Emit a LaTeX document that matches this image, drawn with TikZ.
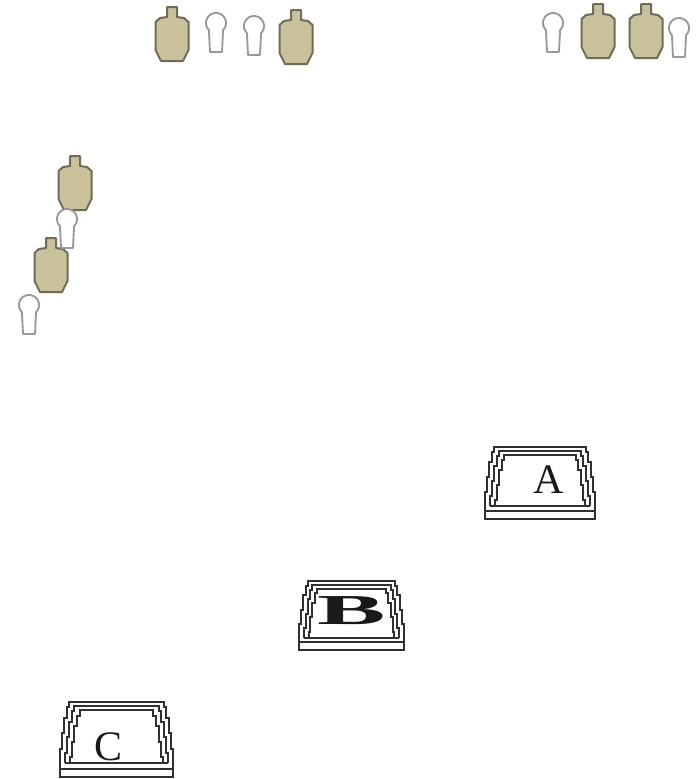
\documentclass[tikz,border=0pt]{standalone}
\usepackage{fontspec}
\setmainfont{Liberation Serif}
\definecolor{targetfill}{HTML}{C9C19A}
\definecolor{targetline}{HTML}{6E6B58}
\definecolor{holeline}{HTML}{999999}
\definecolor{trayline}{HTML}{303030}
\tikzset{
  trayletter/.style={inner sep=0pt,font=\fontsize{31.5}{36}\selectfont,text=black!90},
  bigtarget/.pic={
    \draw[line width=1.5pt,draw=targetline,fill=targetfill,line join=round]
      (-5,0)--(5,0)--(5,10)--(12,11)--(16.5,15)--(16.5,43)--(11,54)--(-11,54)--(-16.5,43)--(-16.5,15)--(-12,11)--(-5,10)--cycle;
  },
  keyhole/.pic={
    \draw[line width=1.4pt,draw=holeline,fill=white,line join=round]
      plot[domain=135:405,samples=40] ({10*cos(\x)},{10*sin(\x)})
      --(6,29)--(-6,29)--cycle;
  },
  stackline/.style={line width=1.5pt,draw=trayline,line join=miter}
}
\newcommand{\StackTray}[4]{%
  \begin{scope}[shift={(#1,#2)},xscale=#3/110,yscale=#4/72]
    \draw[stackline] (0,64) rectangle (110,72);
    \foreach \d/\e in {0/64,1/59,2/59}{
      \pgfmathsetmacro{\a}{\d*5}
      \pgfmathsetmacro{\b}{\d*4}
      \pgfmathsetmacro{\r}{110-\a}
      \draw[stackline]
        (\a,\e)--(\a,\b+45)--(\a+2,\b+45)--(\a+2,\b+30)--(\a+4,\b+30)--(\a+4,\b+15)
        --(\a+7,\b+15)--(\a+7,\b+5)--(\a+9,\b+5)--(\a+9,\b)
        --(\r-9,\b)--(\r-9,\b+5)--(\r-7,\b+5)--(\r-7,\b+15)--(\r-4,\b+15)--(\r-4,\b+30)
        --(\r-2,\b+30)--(\r-2,\b+45)--(\r,\b+45)--(\r,\e);
    }
    \draw[stackline] (5,59)--(105,59);
  \end{scope}%
}
\begin{document}
\begin{tikzpicture}[x=0.75pt,y=-0.75pt]
\useasboundingbox (0,0) rectangle (697,779);
\fill[white] (0,0) rectangle (697,779);
% top row
\pic at (172,7) {bigtarget};
\pic at (216,23) {keyhole};
\pic at (254,26) {keyhole};
\pic at (296,10) {bigtarget};
\pic at (553,23) {keyhole};
\pic at (598,4) {bigtarget};
\pic at (646,4) {bigtarget};
\pic at (679,28) {keyhole};
% left column
\pic at (75,156) {bigtarget};
\pic at (51,238) {bigtarget};
\pic at (67,219) {keyhole};
\pic at (29,305) {keyhole};
% trays
\StackTray{485}{447}{110}{72}
\StackTray{299}{581}{105}{69}
\StackTray{60}{702}{113}{75}
\node[trayletter] (labelA) at (549,480) {A};
\node[trayletter,xscale=2.4,transform shape,font=\fontsize{32}{36}\selectfont\bfseries] (labelB) at (352,611) {B};
\node[trayletter] (labelC) at (109,747) {C};
\end{tikzpicture}
\end{document}
